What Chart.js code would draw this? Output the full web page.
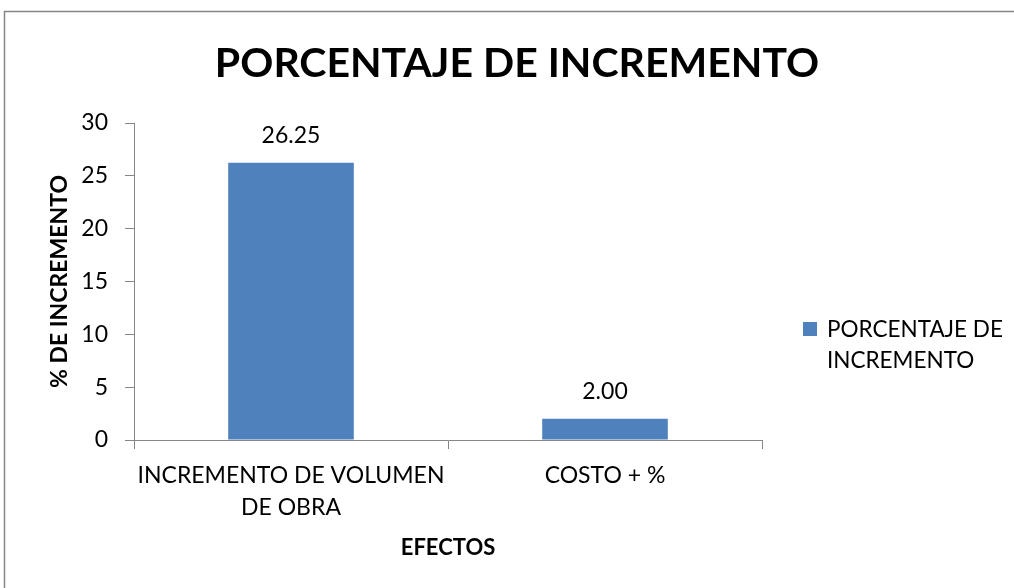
<!DOCTYPE html>
<html>
<head>
<meta charset="utf-8">
<script src="https://cdn.jsdelivr.net/npm/chart.js@4.4.1/dist/chart.umd.min.js"></script>
<style>
html,body{margin:0;padding:0;background:#fff;}
#wrap{position:absolute;left:0;top:0;width:1014px;height:588px;}
</style>
</head>
<body>
<div id="wrap"><canvas id="c" width="1014" height="588"></canvas></div>
<script>
const chartTitle = 'PORCENTAJE DE INCREMENTO';
const categories = [['INCREMENTO DE VOLUMEN', 'DE OBRA'], 'COSTO + %'];
const seriesName = 'PORCENTAJE DE INCREMENTO';
const legendLines = ['PORCENTAJE DE', 'INCREMENTO'];
const values = [26.25, 2.00];
const yTicks = [0, 5, 10, 15, 20, 25, 30];
const yTitle = '% DE INCREMENTO';
const xTitle = 'EFECTOS';

const FONT = 'Lato, "Liberation Sans", sans-serif';
const AXIS = '#868686';
const BAR = '#4F81BD';

const frame = {
  id: 'frame',
  beforeDraw(chart) {
    const ctx = chart.ctx;
    ctx.save();
    ctx.fillStyle = '#fff';
    ctx.fillRect(0, 0, chart.width, chart.height);
    ctx.strokeStyle = AXIS;
    ctx.lineWidth = 1.5;
    ctx.strokeRect(4.5, 11.5, 1200, 800);
    ctx.restore();
  }
};

const mainTitle = {
  id: 'mainTitle',
  afterDraw(chart) {
    const ctx = chart.ctx;
    ctx.save();
    ctx.font = 'bold 41px ' + FONT;
    ctx.fillStyle = '#000';
    ctx.textAlign = 'center';
    ctx.textBaseline = 'alphabetic';
    ctx.fillText(chartTitle, 517, 77);
    ctx.restore();
  }
};

const dataLabels = {
  id: 'dataLabels',
  afterDatasetsDraw(chart) {
    const ctx = chart.ctx;
    const meta = chart.getDatasetMeta(0);
    ctx.save();
    ctx.font = '23px ' + FONT;
    ctx.fillStyle = '#000';
    ctx.textAlign = 'center';
    ctx.textBaseline = 'middle';
    meta.data.forEach((el, i) => {
      ctx.fillText(values[i].toFixed(2), el.x, el.y - 27);
    });
    ctx.restore();
  }
};

const sideLegend = {
  id: 'sideLegend',
  afterDraw(chart) {
    const ctx = chart.ctx;
    const area = chart.chartArea;
    const x0 = area.right + 41;
    const y0 = 322;
    ctx.save();
    ctx.fillStyle = BAR;
    ctx.fillRect(x0, y0, 14, 14);
    ctx.font = '22.5px ' + FONT;
    ctx.fillStyle = '#000';
    ctx.textAlign = 'left';
    ctx.textBaseline = 'middle';
    legendLines.forEach((t, i) => ctx.fillText(t, x0 + 24, y0 + 8 + i * 31));
    ctx.restore();
  }
};

new Chart(document.getElementById('c'), {
  type: 'bar',
  data: {
    labels: categories,
    datasets: [{
      label: seriesName,
      data: values,
      backgroundColor: BAR,
      borderWidth: 0,
      categoryPercentage: 1,
      barPercentage: 0.4
    }]
  },
  options: {
    responsive: false,
    animation: false,
    events: [],
    layout: { padding: { left: 0, right: 252, top: 123, bottom: 0 } },
    plugins: {
      legend: { display: false },
      tooltip: { enabled: false },
      title: { display: false }
    },
    scales: {
      x: {
        offset: true,
        grid: { offset: true, drawOnChartArea: false, drawTicks: true, tickLength: 9, color: AXIS },
        border: { color: AXIS, width: 1 },
        ticks: { color: '#000', font: { family: FONT, size: 23, lineHeight: 1.4 }, padding: 10, maxRotation: 0, autoSkip: false },
        title: { display: true, text: xTitle, color: '#000', font: { family: FONT, size: 22, weight: 'bold' }, padding: { top: 0, bottom: 27 } },
        afterFit: s => { s.height = 148; }
      },
      y: {
        min: 0, max: 30,
        afterBuildTicks: s => { s.ticks = yTicks.map(v => ({ value: v })); },
        grid: { drawOnChartArea: false, drawTicks: true, tickLength: 9, color: AXIS },
        border: { color: AXIS, width: 1 },
        ticks: { color: '#000', font: { family: FONT, size: 23 }, padding: 17 },
        title: { display: true, text: yTitle, color: '#000', font: { family: FONT, size: 23, weight: 'bold' }, padding: { top: 46, bottom: 0 } },
        afterFit: s => { s.width = 134; }
      }
    }
  },
  plugins: [frame, dataLabels, sideLegend, mainTitle]
});
</script>
</body>
</html>
